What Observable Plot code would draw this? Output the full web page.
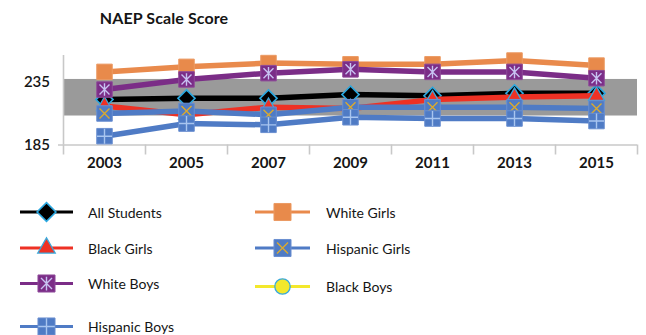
<!DOCTYPE html>
<html>
<head>
<meta charset="utf-8">
<script src="https://cdn.jsdelivr.net/npm/d3@7"></script>
<script src="https://cdn.jsdelivr.net/npm/@observablehq/plot@0.6"></script>
<style>
  body { margin: 0; background: #fff; }
  #chart { position: relative; width: 646px; height: 335px; overflow: hidden; font-family: Lato, "DejaVu Sans", sans-serif; color: #151515; }
  #title { position: absolute; left: 0; top: 10px; width: 328px; text-align: center; font-size: 16px; line-height: 15px; font-weight: 700; letter-spacing: 0.1px; }
  #plot { position: absolute; left: 0; top: 40px; }
  #legend { position: absolute; left: 0; top: 175px; }
</style>
</head>
<body>
<div id="chart">
  <div id="title">NAEP Scale Score</div>
  <div id="plot"></div>
  <svg id="legend" width="646" height="160"></svg>
</div>
<script>
// Test years (categories on the x axis)
const years = [2003, 2005, 2007, 2009, 2011, 2013, 2015];

// Average scale scores per group
const allStudents   = [221, 222, 222, 225, 224, 226, 226];
const whiteGirls    = [243, 247, 250, 249, 249, 252, 248];
const blackGirls    = [216, 209, 215, 214, 221, 223, 224];
const hispanicGirls = [210, 212, 209, 215, 215, 215, 214];
const whiteBoys     = [229, 237, 242, 245, 243, 243, 238];
const blackBoys     = [null, null, null, null, null, null, null]; // no scores reported
const hispanicBoys  = [192, 202, 201, 207, 206, 206, 204];

// Shaded achievement range (Basic to Proficient)
const achievementBand = [208, 237];

// Y-axis tick labels
const yTicks = [185, 235];

// ---- marker glyphs drawn over the filled squares ----
const xLines = {
  draw(ctx, size) {
    const h = Math.sqrt(size) / 2;
    ctx.moveTo(-h, -h); ctx.lineTo(h, h);
    ctx.moveTo(h, -h); ctx.lineTo(-h, h);
  }
};
const starLines = {
  draw(ctx, size) {
    const h = Math.sqrt(size) / 2;
    ctx.moveTo(-h, -h); ctx.lineTo(h, h);
    ctx.moveTo(h, -h); ctx.lineTo(-h, h);
    ctx.moveTo(0, -h * 1.25); ctx.lineTo(0, h * 1.25);
  }
};
const plusLines = {
  draw(ctx, size) {
    const h = Math.sqrt(size) / 2;
    ctx.moveTo(-h, 0); ctx.lineTo(h, 0);
    ctx.moveTo(0, -h); ctx.lineTo(0, h);
  }
};
const d3Shapes = {
  square: d3.symbolSquare,
  diamond2: d3.symbolDiamond2,
  triangle: d3.symbolTriangle,
  circle: d3.symbolCircle
};
const side = (s) => s / Math.sqrt(Math.PI); // radius giving a square of side s

// Series in drawing order (later ones sit on top)
const series = [
  {name: "All Students", values: allStudents, color: "#000000",
   shape: "diamond2", r: 7.7, fill: "#000000", stroke: "#2ba8e0", sw: 1.6},
  {name: "White Girls", values: whiteGirls, color: "#e98a4c",
   shape: "square", r: side(15.5), fill: "#e88a4b", stroke: "#eb9a63", sw: 1},
  {name: "Black Girls", values: blackGirls, color: "#ee3124",
   shape: "triangle", r: 5.9, fill: "#ee3124", stroke: "#3aa9dc", sw: 1.3},
  {name: "Hispanic Girls", values: hispanicGirls, color: "#4f7bc5",
   shape: "square", r: side(15.5), fill: "#4f7bc5", stroke: "#6a8fd0", sw: 1,
   glyph: xLines, glyphR: side(10), glyphStroke: "#dcaa2e"},
  {name: "White Boys", values: whiteBoys, color: "#7b2d87",
   shape: "square", r: side(15.5), fill: "#7b2d87", stroke: "#8e4a99", sw: 1,
   glyph: starLines, glyphR: side(10), glyphStroke: "#c8c2f2"},
  {name: "Black Boys", values: blackBoys, color: "#f3e82c",
   shape: "circle", r: 7, fill: "#f3e82c", stroke: "#3aa9dc", sw: 1.3},
  {name: "Hispanic Boys", values: hispanicBoys, color: "#4f7bc5",
   shape: "square", r: side(15.5), fill: "#4f7bc5", stroke: "#6a8fd0", sw: 1,
   glyph: plusLines, glyphR: side(15), glyphStroke: "#a8c5f0"}
];

const rows = series.flatMap(s =>
  years.map((year, i) => ({series: s.name, year, score: s.values[i]}))
);

const axisGray = "#c8c8c8";
const boundaries = d3.range(years[0] - 1, years[years.length - 1] + 2, 2);

const seriesMarks = series.flatMap(s => {
  const data = rows.filter(d => d.series === s.name && d.score != null);
  const marks = [
    Plot.line(data, {x: "year", y: "score", stroke: s.color, strokeWidth: 5.5, strokeLinejoin: "round"}),
    Plot.dot(data, {x: "year", y: "score", symbol: s.shape, r: s.r, fill: s.fill, stroke: s.stroke, strokeWidth: s.sw})
  ];
  if (s.glyph) {
    marks.push(Plot.dot(data, {x: "year", y: "score", symbol: s.glyph, r: s.glyphR, fill: "none", stroke: s.glyphStroke, strokeWidth: 1.4}));
  }
  return marks;
});

const chart = Plot.plot({
  width: 646,
  height: 135,
  marginLeft: 63,
  marginRight: 9,
  marginTop: 15,
  marginBottom: 30.5,
  style: {fontFamily: "Lato, 'DejaVu Sans', sans-serif", fontSize: "15px", color: "#151515", background: "transparent", overflow: "visible"},
  x: {type: "linear", domain: [boundaries[0], boundaries[boundaries.length - 1]], label: null},
  y: {domain: [185, 256], label: null},
  marks: [
    Plot.rect([achievementBand], {y1: d => d[0], y2: d => d[1], fill: "#9a9a9a"}),
    Plot.ruleX([boundaries[0]], {stroke: axisGray, strokeWidth: 1.6}),
    Plot.ruleY([yTicks[0]], {stroke: axisGray, strokeWidth: 1.6, insetLeft: -5}),
    Plot.axisX(boundaries, {tickSize: 10, tickFormat: () => "", stroke: axisGray, strokeWidth: 1.6, label: null}),
    Plot.axisX(years, {tickSize: 0, tickPadding: 12, tickFormat: d => String(d), fontWeight: "bold", fill: "#151515", label: null}),
    Plot.axisY(yTicks, {tickSize: 0, tickPadding: 13.5, fontWeight: 600, fill: "#151515", label: null}),
    ...seriesMarks
  ]
});
document.getElementById("plot").appendChild(chart);

// ---- legend (two columns, filled row by row) ----
const legend = d3.select("#legend");
const cols = [
  {lineX1: 20, lineX2: 73, markX: 46.5, textX: 88, rows: [37, 73, 108.5, 151.5]},
  {lineX1: 255, lineX2: 310, markX: 282.5, textX: 326, rows: [37, 73, 111.5]}
];
const k = 1.1; // legend markers are slightly larger
series.forEach((s, i) => {
  const col = cols[i % 2];
  const y = col.rows[Math.floor(i / 2)];
  const g = legend.append("g");
  g.append("line")
    .attr("x1", col.lineX1).attr("x2", col.lineX2).attr("y1", y).attr("y2", y)
    .attr("stroke", s.color).attr("stroke-width", 3);
  g.append("path")
    .attr("transform", `translate(${col.markX},${y})`)
    .attr("d", d3.symbol(d3Shapes[s.shape], Math.PI * (s.r * k) ** 2)())
    .attr("fill", s.fill).attr("stroke", s.stroke).attr("stroke-width", s.sw);
  if (s.glyph) {
    g.append("path")
      .attr("transform", `translate(${col.markX},${y})`)
      .attr("d", d3.symbol(s.glyph, Math.PI * (s.glyphR * k) ** 2)())
      .attr("fill", "none").attr("stroke", s.glyphStroke).attr("stroke-width", 1.4);
  }
  g.append("text")
    .attr("x", col.textX).attr("y", y)
    .attr("dominant-baseline", "central")
    .attr("font-family", "Lato, 'DejaVu Sans', sans-serif")
    .attr("font-size", 14)
    .attr("fill", "#151515")
    .text(s.name);
});
</script>
</body>
</html>
